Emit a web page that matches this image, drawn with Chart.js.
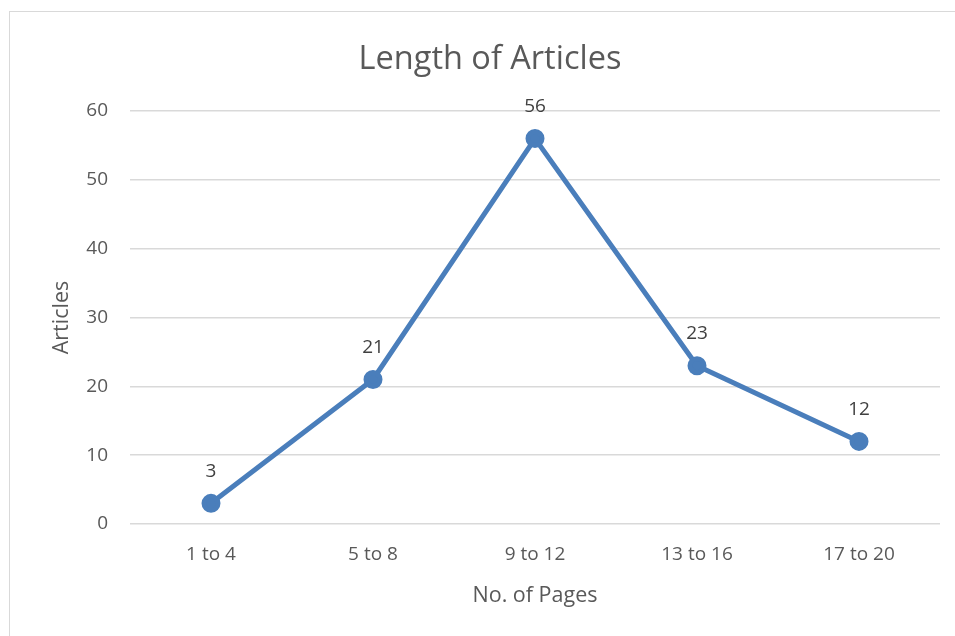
<!DOCTYPE html>
<html>
<head>
<meta charset="utf-8">
<script src="https://cdn.jsdelivr.net/npm/chart.js@4"></script>
<style>
  html, body { margin: 0; padding: 0; background: #fff; overflow: hidden; width: 955px; height: 636px; }
  #frame { position: absolute; left: 0; top: 0; width: 980px; height: 636px; }
  #border { position: absolute; left: 9px; top: 11px; width: 1000px; height: 700px; border: 1px solid #d9d9d9; }
</style>
</head>
<body>
<div id="border"></div>
<div id="frame"><canvas id="myChart" width="980" height="636"></canvas></div>
<script>
const pages = ['1 to 4', '5 to 8', '9 to 12', '13 to 16', '17 to 20'];
const articles = [3, 21, 56, 23, 12];

const textColor = '#595959';
const fontFamily = '"Open Sans", "Noto Sans", sans-serif';

// writes the value above each point
const pointLabels = {
  id: 'pointLabels',
  afterDatasetsDraw(chart) {
    const ctx = chart.ctx;
    const meta = chart.getDatasetMeta(0);
    ctx.save();
    ctx.font = '19px ' + fontFamily;
    ctx.fillStyle = '#404040';
    ctx.textAlign = 'center';
    ctx.textBaseline = 'middle';
    meta.data.forEach((pt, i) => {
      ctx.fillText(articles[i], pt.x, pt.y - 32);
    });
    ctx.restore();
  }
};

new Chart(document.getElementById('myChart'), {
  type: 'line',
  data: {
    labels: pages,
    datasets: [{
      label: 'Articles',
      data: articles,
      borderColor: '#4a7ebb',
      backgroundColor: '#4a7ebb',
      borderWidth: 5,
      pointRadius: 7,
      pointHoverRadius: 7,
      tension: 0,
    }],
  },
  options: {
    responsive: false,
    animation: false,
    layout: { padding: { left: 40, right: 40, top: 0, bottom: 0 } },
    plugins: {
      legend: { display: false },
      tooltip: { enabled: false },
      title: {
        display: true,
        text: 'Length of Articles',
        color: textColor,
        font: { family: fontFamily, size: 32.5, weight: 'normal', lineHeight: 1.2 },
        padding: { top: 40, bottom: 32 },
      },
    },
    scales: {
      x: {
        offset: true,
        grid: { display: false, drawTicks: false },
        border: { display: false },
        ticks: { color: textColor, font: { family: fontFamily, size: 19 }, padding: 19, maxRotation: 0 },
        title: {
          display: true,
          text: 'No. of Pages',
          color: textColor,
          font: { family: fontFamily, size: 21.5, lineHeight: 1.2 },
          padding: { top: 0, bottom: 27 },
        },
        afterFit(scale) { scale.height = 112; },
      },
      y: {
        min: 0,
        max: 60,
        ticks: { stepSize: 10, color: textColor, font: { family: fontFamily, size: 19 }, padding: 22 },
        grid: { color: '#d9d9d9', lineWidth: 1.5, drawTicks: false },
        border: { display: false },
        title: {
          display: true,
          text: 'Articles',
          color: textColor,
          font: { family: fontFamily, size: 21.5, lineHeight: 1.2 },
          padding: { top: 9, bottom: 0 },
        },
        afterFit(scale) { scale.width = 90; },
      },
    },
  },
  plugins: [pointLabels],
});
</script>
</body>
</html>
